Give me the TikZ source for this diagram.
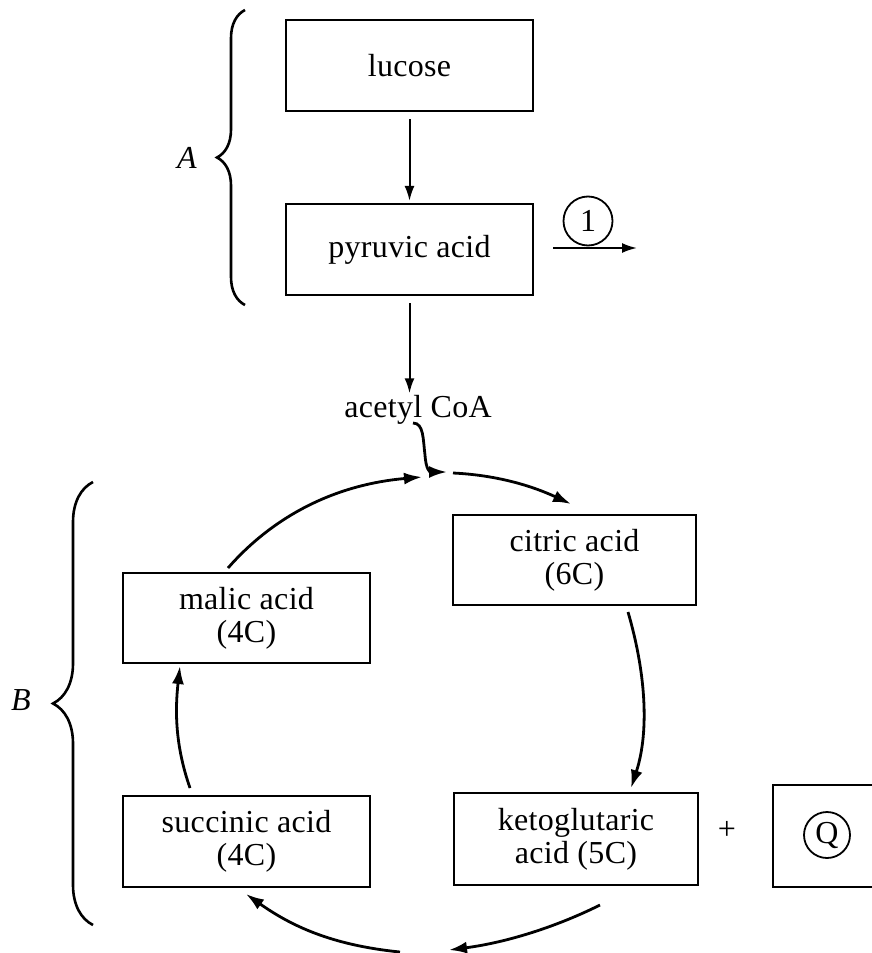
\documentclass[tikz,border=0pt]{standalone}
\usepackage{fontspec}
\setmainfont{Liberation Serif}[LetterSpace=1]
\usetikzlibrary{arrows.meta,decorations.pathreplacing}
\begin{document}
\begin{tikzpicture}[x=1pt,y=-1pt,
  font=\fontsize{32}{33}\selectfont,
  box/.style={draw,line width=2.2pt,inner sep=0pt,align=center},
  sarrow/.style={line width=2pt,-{Latex[length=15pt,width=10pt]}},
  carrow/.style={line width=2.8pt,-{Latex[length=18pt,width=12pt]}},
  bracestyle/.style={decorate,line width=2.6pt,decoration={brace,amplitude=#1}}]
\useasboundingbox (0,0) rectangle (872,953);
% boxes
\node[box,minimum width=247pt,minimum height=91pt] (glu) at (409.5,65.5) {lucose};
\node[box,minimum width=247pt,minimum height=91pt] (pyr) at (409.5,249.5) {pyruvic acid};
\node[inner sep=2pt] (acetyl) at (418,410) {acetyl CoA};
\node[box,minimum width=243pt,minimum height=90pt] (citric) at (574.5,560) {citric acid\\(6C)};
\node[box,minimum width=244pt,minimum height=92pt] (keto) at (576,839) {ketoglutaric\\acid (5C)};
\node[box,minimum width=247pt,minimum height=91pt] (succ) at (246.5,841.5) {succinic acid\\(4C)};
\node[box,minimum width=247pt,minimum height=90pt] (malic) at (246.5,618) {malic acid\\(4C)};
\node[box,minimum width=102pt,minimum height=102pt] (qbox) at (824,836) {};
\node[draw,circle,line width=1.8pt,minimum size=46pt,inner sep=0pt] (q) at (827,835) {Q};
\node (plus) at (727,830) {+};
\node[draw,circle,line width=1.8pt,minimum size=49pt,inner sep=0pt] (one) at (588,221) {1};
% labels
\node (A) at (187,158) {\itshape A};
\node (B) at (21,700) {\itshape B};
% braces
\coordinate (a1) at (245,305);
\coordinate (a2) at (245,10);
\coordinate (b1) at (93,925);
\coordinate (b2) at (93,482);
\draw[bracestyle=28pt] (a1) -- (a2);
\draw[bracestyle=40pt] (b1) -- (b2);
% straight arrows
\draw[sarrow] ([yshift=-7pt]glu.south) -- ([yshift=2pt]pyr.north);
\draw[sarrow] ([yshift=-7pt]pyr.south) -- (acetyl.north -| pyr.south);
\coordinate (o1) at (553,248);
\coordinate (o2) at (637,248);
\draw[sarrow] (o1) -- (o2);
% cycle arrows
\coordinate (hk) at (413,423);
\coordinate (cA) at (447,472);
\draw[carrow] (hk) .. controls (424,423) and (423,440) .. (425,455) .. controls (426,470) and (430,472) .. (cA);
\coordinate (tr1) at (453,473);
\coordinate (tr2) at (571,504);
\draw[carrow] (tr1) .. controls (495,475) and (530,485) .. (tr2);
\coordinate (r1) at (628,612);
\coordinate (r2) at (631,788);
\draw[carrow] (r1) .. controls (645,670) and (650,730) .. (r2);
\coordinate (br1) at (600,905);
\coordinate (br2) at (449,950);
\draw[carrow] (br1) .. controls (560,925) and (510,942) .. (br2);
\coordinate (bl1) at (400,952);
\coordinate (bl2) at (246,894);
\draw[carrow] (bl1) .. controls (330,945) and (290,925) .. (bl2);
\coordinate (l1) at (190,788);
\coordinate (l2) at (180,666);
\draw[carrow] (l1) .. controls (175,745) and (175,710) .. (l2);
\coordinate (tl1) at (228,568);
\coordinate (tl2) at (422,477);
\draw[carrow] (tl1) .. controls (270,520) and (330,485) .. (tl2);
\end{tikzpicture}
\end{document}
